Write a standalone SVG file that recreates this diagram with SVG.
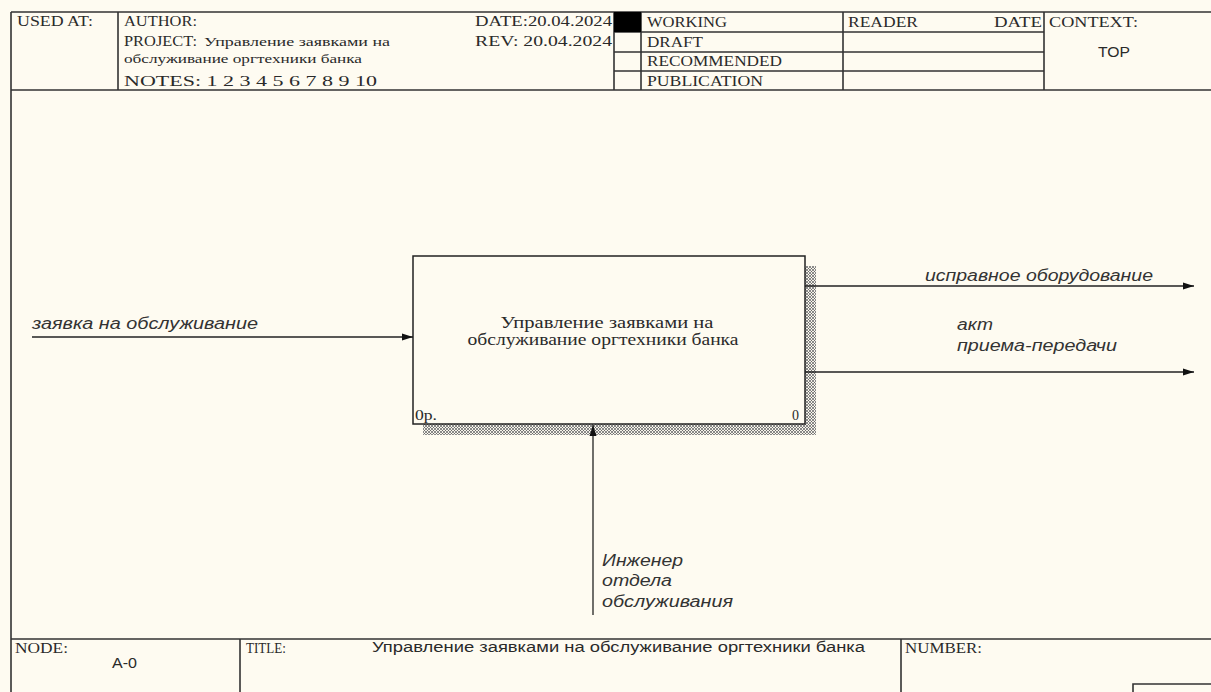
<svg xmlns="http://www.w3.org/2000/svg" width="1211" height="692" viewBox="0 0 1211 692">
<style>
.frame{stroke:#333;stroke-width:1.6;fill:none}
.hdr{font-family:"Liberation Serif",serif;font-size:14px;fill:#2a2a2a}
.sm{font-family:"Liberation Serif",serif;font-size:12px;fill:#2a2a2a}
.sans{font-family:"Liberation Sans",Arial,sans-serif;font-size:14px;fill:#2a2a2a}
.lbl{font-family:"Liberation Sans",Arial,sans-serif;font-size:16px;font-style:italic;fill:#333}
.box{font-family:"Liberation Serif",serif;font-size:16px;fill:#2a2a2a}
.arr{stroke:#222;stroke-width:1.3;fill:none}
</style>
<defs>
<pattern id="hatch" width="3" height="3" patternUnits="userSpaceOnUse">
<rect width="3" height="3" fill="#f6f3ea"/>
<rect x="0" y="0" width="1" height="1" fill="#8a8a8a"/>
<rect x="2" y="0" width="1" height="1" fill="#8a8a8a"/>
<rect x="1" y="1" width="1" height="1" fill="#666"/>
<rect x="0" y="2" width="1" height="1" fill="#8a8a8a"/>
<rect x="2" y="2" width="1" height="1" fill="#8a8a8a"/>
</pattern>
<marker id="ah" markerWidth="12" markerHeight="8" refX="11" refY="4" orient="auto" markerUnits="userSpaceOnUse">
<path d="M0,0.5 L11,4 L0,7.5 z" fill="#111"/>
</marker>
</defs>
<rect width="1211" height="692" fill="#fefbf1"/>

<g id="header">
<path class="frame" d="M11,12 H1211 M11,90 H1211 M11,12 V692 M118,12 V90 M614,12 V90 M641,12 V90 M843,12 V90 M1044,12 V90 M614,32 H1044 M614,52 H1044 M614,71 H1044"/>
<rect x="614" y="12" width="27" height="20" fill="#000"/>
<text class="hdr" x="17" y="26" textLength="76" lengthAdjust="spacingAndGlyphs">USED AT:</text>
<text class="hdr" x="124" y="26" textLength="73" lengthAdjust="spacingAndGlyphs">AUTHOR:</text>
<text class="hdr" x="124" y="46" textLength="73" lengthAdjust="spacingAndGlyphs">PROJECT:</text>
<text class="sm" x="204" y="46" textLength="186" lengthAdjust="spacingAndGlyphs">Управление заявками на</text>
<text class="sm" x="124" y="63" textLength="238" lengthAdjust="spacingAndGlyphs">обслуживание оргтехники банка</text>
<text class="hdr" x="124" y="86" textLength="253" lengthAdjust="spacingAndGlyphs">NOTES: 1 2 3 4 5 6 7 8 9 10</text>
<text class="hdr" x="475" y="26" textLength="137" lengthAdjust="spacingAndGlyphs">DATE:20.04.2024</text>
<text class="hdr" x="475" y="46" textLength="137" lengthAdjust="spacingAndGlyphs">REV:  20.04.2024</text>
<text class="hdr" x="647" y="27" textLength="80" lengthAdjust="spacingAndGlyphs">WORKING</text>
<text class="hdr" x="647" y="47" textLength="56" lengthAdjust="spacingAndGlyphs">DRAFT</text>
<text class="hdr" x="647" y="66" textLength="135" lengthAdjust="spacingAndGlyphs">RECOMMENDED</text>
<text class="hdr" x="647" y="86" textLength="116" lengthAdjust="spacingAndGlyphs">PUBLICATION</text>
<text class="hdr" x="848" y="27" textLength="70" lengthAdjust="spacingAndGlyphs">READER</text>
<text class="hdr" x="994" y="27" textLength="48" lengthAdjust="spacingAndGlyphs">DATE</text>
<text class="hdr" x="1049" y="27" textLength="89" lengthAdjust="spacingAndGlyphs">CONTEXT:</text>
<text class="sans" x="1098" y="57" textLength="32" lengthAdjust="spacingAndGlyphs">TOP</text>
</g>

<g id="footer">
<path class="frame" d="M11,639 H1211 M240,639 V692 M901,639 V692 M1133,692 V684 H1211"/>
<text class="hdr" x="15" y="653" textLength="53" lengthAdjust="spacingAndGlyphs">NODE:</text>
<text class="sans" x="112" y="668" textLength="25" lengthAdjust="spacingAndGlyphs">A-0</text>
<text class="hdr" x="246" y="653" textLength="40" lengthAdjust="spacingAndGlyphs">TITLE:</text>
<text class="sans" x="372" y="652" textLength="493" lengthAdjust="spacingAndGlyphs">Управление заявками на  обслуживание оргтехники банка</text>
<text class="hdr" x="905" y="653" textLength="77" lengthAdjust="spacingAndGlyphs">NUMBER:</text>
</g>

<g id="node-A0">
<rect x="423" y="266" width="393" height="169" fill="url(#hatch)"/>
<rect x="413" y="256" width="392" height="168" fill="#fefbf1" stroke="#222" stroke-width="1.5"/>
<text class="box" x="607" y="328" text-anchor="middle" textLength="213" lengthAdjust="spacingAndGlyphs">Управление заявками на</text>
<text class="box" x="603" y="345" text-anchor="middle" textLength="271" lengthAdjust="spacingAndGlyphs">обслуживание оргтехники банка</text>
<text class="hdr" x="415" y="420" textLength="22" lengthAdjust="spacingAndGlyphs">0р.</text>
<text class="hdr" x="799" y="420" text-anchor="end">0</text>
</g>

<g id="connectors">
<line class="arr" x1="32" y1="337" x2="413" y2="337" marker-end="url(#ah)"/>
<line class="arr" x1="805" y1="286" x2="1194" y2="286" marker-end="url(#ah)"/>
<line class="arr" x1="805" y1="372" x2="1194" y2="372" marker-end="url(#ah)"/>
<line class="arr" x1="593" y1="615" x2="593" y2="425" marker-end="url(#ah)"/>
<text class="lbl" x="32" y="329" textLength="226" lengthAdjust="spacingAndGlyphs">заявка на обслуживание</text>
<text class="lbl" x="925" y="281" textLength="228" lengthAdjust="spacingAndGlyphs">исправное оборудование</text>
<text class="lbl" x="957" y="330" textLength="36" lengthAdjust="spacingAndGlyphs">акт</text>
<text class="lbl" x="957" y="351" textLength="160" lengthAdjust="spacingAndGlyphs">приема-передачи</text>
<text class="lbl" x="602" y="566" textLength="81" lengthAdjust="spacingAndGlyphs">Инженер</text>
<text class="lbl" x="602" y="586" textLength="70" lengthAdjust="spacingAndGlyphs">отдела</text>
<text class="lbl" x="602" y="607" textLength="131" lengthAdjust="spacingAndGlyphs">обслуживания</text>
</g>
</svg>
